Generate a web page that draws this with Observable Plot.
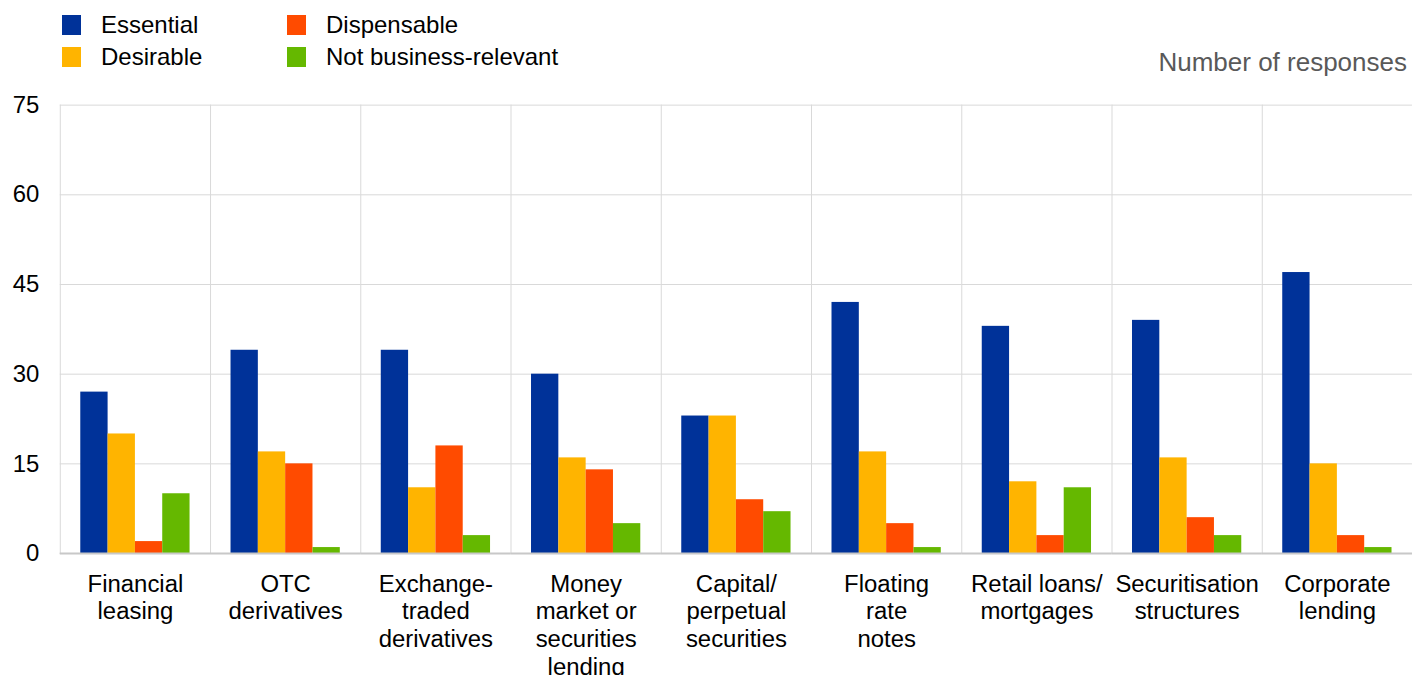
<!DOCTYPE html>
<html>
<head>
<meta charset="utf-8">
<script src="https://cdn.jsdelivr.net/npm/d3@7"></script>
<script src="https://cdn.jsdelivr.net/npm/@observablehq/plot@0.6"></script>
<style>
  html, body { margin: 0; padding: 0; overflow: hidden; background: #fff; }
  body { font-family: "Liberation Sans", Arial, sans-serif; width: 1412px; height: 677px; position: relative; }
  #chart { position: absolute; left: 0; top: 0; }
  .legend { position: absolute; left: 0; top: 0; }
  .item { position: absolute; display: flex; align-items: center; font-size: 24px; color: #000; white-space: nowrap; line-height: 28px; }
  .sw { width: 19px; height: 20px; margin-right: 20px; }
  .unit { position: absolute; right: 5px; top: 46px; font-size: 26px; line-height: 32px; color: #595959; }
</style>
</head>
<body>
<div id="chart"></div>
<div class="legend" id="legend"></div>
<div class="unit">Number of responses</div>
<script>
const categories = ["Financial leasing", "OTC derivatives", "Exchange-traded derivatives", "Money market or securities lending", "Capital/perpetual securities", "Floating rate notes", "Retail loans/mortgages", "Securitisation structures", "Corporate lending"];
const categoryLabels = ["Financial\nleasing", "OTC\nderivatives", "Exchange-\ntraded\nderivatives", "Money\nmarket or\nsecurities\nlending", "Capital/\nperpetual\nsecurities", "Floating\nrate\nnotes", "Retail loans/\nmortgages", "Securitisation\nstructures", "Corporate\nlending"];
const seriesNames = ["Essential", "Desirable", "Dispensable", "Not business-relevant"];
const seriesColors = ["#003299", "#FFB400", "#FF4B00", "#65B800"];
const essential = [27, 34, 34, 30, 23, 42, 38, 39, 47];
const desirable = [20, 17, 11, 16, 23, 17, 12, 16, 15];
const dispensable = [2, 15, 18, 14, 9, 5, 3, 6, 3];
const notRelevant = [10, 1, 3, 5, 7, 1, 11, 3, 1];
const yTicks = [0, 15, 30, 45, 60, 75];

const seriesValues = [essential, desirable, dispensable, notRelevant];
const data = [];
categories.forEach((c, i) => {
  seriesNames.forEach((s, j) => data.push({category: c, series: s, value: seriesValues[j][i]}));
});
const labelOf = new Map(categories.map((c, i) => [c, categoryLabels[i]]));

const chart = Plot.plot({
  width: 1417,
  height: 677,
  marginTop: 105,
  marginBottom: 122,
  marginLeft: 60,
  marginRight: 0,
  style: {fontFamily: '"Liberation Sans", Arial, sans-serif', background: "#fff"},
  fx: {domain: categories, paddingInner: 0, paddingOuter: 0, round: false},
  x: {domain: seriesNames, paddingInner: 0, paddingOuter: 0.75, round: false, axis: null},
  y: {domain: [0, 75]},
  color: {domain: seriesNames, range: seriesColors},
  marks: [
    Plot.gridY(yTicks, {stroke: "#d9d9d9", strokeOpacity: 1}),
    Plot.frame({anchor: "left", stroke: "#d9d9d9", strokeOpacity: 1}),
    Plot.barY(data, {fx: "category", x: "series", y: "value", fill: "series"}),
    Plot.ruleY([0], {stroke: "#c8c8c8", strokeWidth: 2}),
    Plot.axisY(yTicks, {tickSize: 0, tickPadding: 21, fontSize: 24, label: null, fill: "#000"}),
    Plot.axisFx({anchor: "bottom", tickSize: 0, tickPadding: 19, fontSize: 24, lineHeight: 1.15, label: null, tickFormat: d => labelOf.get(d), fill: "#000"})
  ]
});
document.getElementById("chart").appendChild(chart);

const legend = document.getElementById("legend");
const pos = [[62, 11], [62, 43], [287, 11], [287, 43]];
seriesNames.forEach((s, j) => {
  const item = document.createElement("div");
  item.className = "item";
  item.style.left = pos[j][0] + "px";
  item.style.top = pos[j][1] + "px";
  const sw = document.createElement("div");
  sw.className = "sw";
  sw.style.background = seriesColors[j];
  const t = document.createElement("span");
  t.textContent = s;
  item.appendChild(sw);
  item.appendChild(t);
  legend.appendChild(item);
});
</script>
</body>
</html>
